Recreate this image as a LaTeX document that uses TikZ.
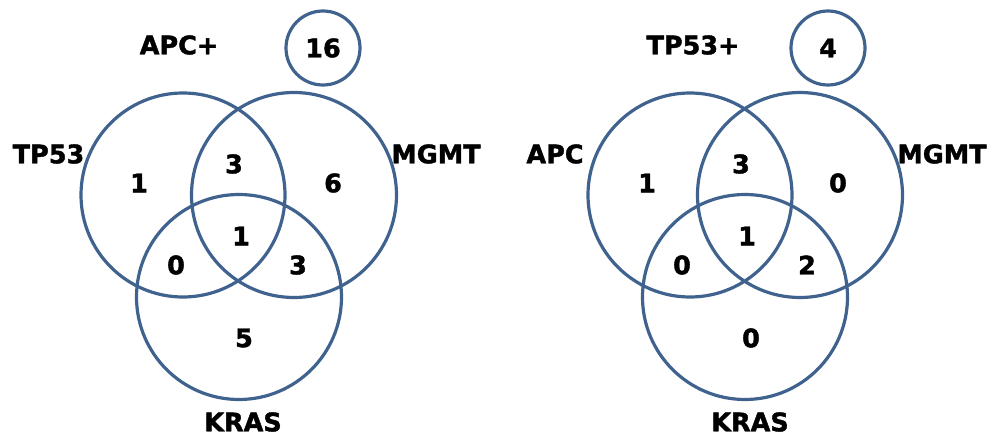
\documentclass[tikz,border=0pt]{standalone}
\usepackage{fontspec}
\setmainfont{DejaVu Sans}
\newfontfamily\heavyfont{DejaVu Sans Bold}[FakeBold=1.6]
\definecolor{vblue}{RGB}{64,98,142}
\begin{document}
\begin{tikzpicture}[x=1pt,y=-1pt,
  ring/.style={circle,draw=vblue,line width=3.2pt,inner sep=0pt,minimum size=#1},
  lab/.style={font=\fontsize{25.5}{28}\heavyfont,inner sep=0pt,anchor=center}]
\useasboundingbox (0,0) rectangle (989,439);
% left diagram
\node[ring=204pt] (lA) at (183,195) {};
\node[ring=205pt] (lB) at (294,195) {};
\node[ring=205pt] (lC) at (239,297) {};
\node[ring=74pt] (lS) at (323,48) {};
\node[lab] (lt) at (179,45) {APC+};
\node[lab] (la) at (48.5,154) {TP53};
\node[lab] (lb) at (436,154) {MGMT};
\node[lab] (lc) at (243,422) {KRAS};
\node[lab] at (lS) {16};
\node[lab] (ln1) at (139,183) {1};
\node[lab] (ln2) at (234,164) {3};
\node[lab] (ln3) at (333,183) {6};
\node[lab] (ln4) at (241,236) {1};
\node[lab] (ln5) at (176,265) {0};
\node[lab] (ln6) at (298,265) {3};
\node[lab] (ln7) at (244,338) {5};
% right diagram
\node[ring=204pt] (rA) at (690,195) {};
\node[ring=205pt] (rB) at (800,195) {};
\node[ring=205pt] (rC) at (745,297) {};
\node[ring=74pt] (rS) at (828,48) {};
\node[lab] (rt) at (693,45) {TP53+};
\node[lab] (ra) at (555,154) {APC};
\node[lab] (rb) at (942,154) {MGMT};
\node[lab] (rc) at (750,422) {KRAS};
\node[lab] at (rS) {4};
\node[lab] (rn1) at (647,183) {1};
\node[lab] (rn2) at (741,164) {3};
\node[lab] (rn3) at (838,183) {0};
\node[lab] (rn4) at (747,236) {1};
\node[lab] (rn5) at (682,265) {0};
\node[lab] (rn6) at (807,265) {2};
\node[lab] (rn7) at (751,338) {0};
\end{tikzpicture}
\end{document}
